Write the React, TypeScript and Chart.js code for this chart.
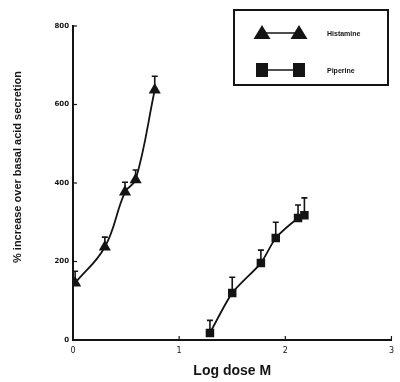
import React, { useEffect, useRef } from "react";
import { Chart, registerables } from "chart.js";

Chart.register(...registerables);

const histamineDose = [0.02, 0.3, 0.49, 0.59, 0.77];
const histamineValues = [145, 237, 377, 408, 637];
const histamineErrTop = [175, 262, 402, 433, 672];

const piperineDose = [1.29, 1.5, 1.77, 1.91, 2.12, 2.18];
const piperineValues = [18, 120, 196, 260, 311, 318];
const piperineErrTop = [50, 160, 229, 300, 344, 362];

const xTicks = [0, 1, 2, 3];
const yTicks = [0, 200, 400, 600, 800];
const seriesNames = ["Histamine", "Piperine"];
const xTitle = "Log dose M";
const yTitle = "% increase over basal acid secretion";

const INK = "#141414";

const errorBarPlugin = {
  id: "errorBars",
  afterDatasetsDraw(chart: any) {
    const { ctx, scales } = chart;
    const x = scales.x;
    const y = scales.y;
    const sets = [
      { xs: histamineDose, vs: histamineValues, tops: histamineErrTop },
      { xs: piperineDose, vs: piperineValues, tops: piperineErrTop },
    ];
    ctx.save();
    ctx.strokeStyle = INK;
    ctx.lineWidth = 1.6;
    sets.forEach((s) => {
      s.xs.forEach((xv, i) => {
        const px = x.getPixelForValue(xv);
        const py = y.getPixelForValue(s.vs[i]);
        const pt = y.getPixelForValue(s.tops[i]);
        ctx.beginPath();
        ctx.moveTo(px, py);
        ctx.lineTo(px, pt);
        ctx.moveTo(px - 3, pt);
        ctx.lineTo(px + 3, pt);
        ctx.stroke();
      });
    });
    ctx.restore();
  },
};

const axisPlugin = {
  id: "axisMarks",
  afterDraw(chart: any) {
    const { ctx, scales, chartArea } = chart;
    const x = scales.x;
    const y = scales.y;
    ctx.save();
    ctx.strokeStyle = INK;
    ctx.lineWidth = 1.2;
    xTicks.forEach((t) => {
      const px = x.getPixelForValue(t);
      ctx.beginPath();
      ctx.moveTo(px, chartArea.bottom);
      ctx.lineTo(px, chartArea.bottom - 4);
      ctx.stroke();
    });
    yTicks.forEach((t) => {
      const py = y.getPixelForValue(t);
      ctx.beginPath();
      ctx.moveTo(chartArea.left, py);
      ctx.lineTo(chartArea.left + 4, py);
      ctx.stroke();
    });
    // y axis title
    ctx.translate(18, 167);
    ctx.rotate(-Math.PI / 2);
    ctx.fillStyle = INK;
    ctx.font = "bold 11px 'Liberation Sans', sans-serif";
    ctx.textAlign = "center";
    ctx.textBaseline = "middle";
    ctx.fillText(yTitle, 0, 0);
    ctx.restore();
  },
};

const legendPlugin = {
  id: "boxLegend",
  afterDraw(chart: any) {
    const { ctx } = chart;
    ctx.save();
    ctx.strokeStyle = INK;
    ctx.fillStyle = INK;
    ctx.lineWidth = 2;
    ctx.strokeRect(234, 10, 154, 75);
    const rows = [
      { y: 33, style: "triangle" },
      { y: 70, style: "rect" },
    ];
    rows.forEach((r, i) => {
      const x1 = 262;
      const x2 = 299;
      ctx.lineWidth = 1.5;
      ctx.beginPath();
      ctx.moveTo(x1, r.y);
      ctx.lineTo(x2, r.y);
      ctx.stroke();
      [x1, x2].forEach((cx) => {
        ctx.beginPath();
        if (r.style === "triangle") {
          ctx.moveTo(cx, r.y - 8);
          ctx.lineTo(cx + 8.5, r.y + 6);
          ctx.lineTo(cx - 8.5, r.y + 6);
          ctx.closePath();
          ctx.fill();
        } else {
          ctx.fillRect(cx - 6, r.y - 7, 12, 14);
        }
      });
      ctx.font = "bold 7px 'Liberation Sans', sans-serif";
      ctx.textBaseline = "middle";
      ctx.textAlign = "left";
      ctx.fillText(seriesNames[i], 327, r.y + 1);
    });
    ctx.restore();
  },
};

export default function App() {
  const ref = useRef<HTMLCanvasElement | null>(null);
  useEffect(() => {
    if (!ref.current) return;
    const chart = new Chart(ref.current, {
      type: "scatter",
      data: {
        datasets: [
          {
            label: seriesNames[0],
            data: histamineDose.map((d, i) => ({ x: d, y: histamineValues[i] })),
            showLine: true,
            tension: 0.4,
            borderColor: INK,
            backgroundColor: INK,
            borderWidth: 1.8,
            pointStyle: "triangle",
            pointRadius: 7,
            pointBorderWidth: 0,
          },
          {
            label: seriesNames[1],
            data: piperineDose.map((d, i) => ({ x: d, y: piperineValues[i] })),
            showLine: true,
            tension: 0.2,
            borderColor: INK,
            backgroundColor: INK,
            borderWidth: 1.8,
            pointStyle: "rect",
            pointRadius: 6,
            pointBorderWidth: 0,
          },
        ],
      },
      options: {
        animation: false,
        responsive: false,
        layout: { padding: { left: 6, top: 26, right: 3, bottom: 2 } },
        plugins: { legend: { display: false }, tooltip: { enabled: false } },
        scales: {
          x: {
            type: "linear",
            min: 0,
            max: 3,
            afterBuildTicks: (s: any) => {
              s.ticks = xTicks.map((v) => ({ value: v }));
            },
            afterFit: (s: any) => {
              s.height = 40;
            },
            grid: { display: false, drawTicks: false },
            border: { display: true, color: INK, width: 2 },
            ticks: {
              color: INK,
              font: { size: 8, family: "'DejaVu Sans', sans-serif" },
              padding: 6,
            },
            title: {
              display: true,
              text: xTitle,
              color: INK,
              font: { size: 14, family: "'Liberation Sans', sans-serif", weight: "bold" },
              padding: { top: 0, bottom: 0 },
            },
          },
          y: {
            type: "linear",
            min: 0,
            max: 800,
            afterBuildTicks: (s: any) => {
              s.ticks = yTicks.map((v) => ({ value: v }));
            },
            afterFit: (s: any) => {
              s.width = 67;
            },
            grid: { display: false, drawTicks: false },
            border: { display: true, color: INK, width: 2 },
            ticks: {
              color: INK,
              font: { size: 7, family: "'DejaVu Sans', sans-serif", weight: "bold" },
              padding: 4,
            },
            title: { display: false },
          },
        },
      },
      plugins: [errorBarPlugin, axisPlugin, legendPlugin],
    } as any);
    return () => chart.destroy();
  }, []);
  return (
    <div style={{ position: "fixed", left: 0, top: 0, width: 400, height: 382, background: "#fff" }}>
      <canvas ref={ref} width={400} height={382} style={{ display: "block" }} />
    </div>
  );
}
